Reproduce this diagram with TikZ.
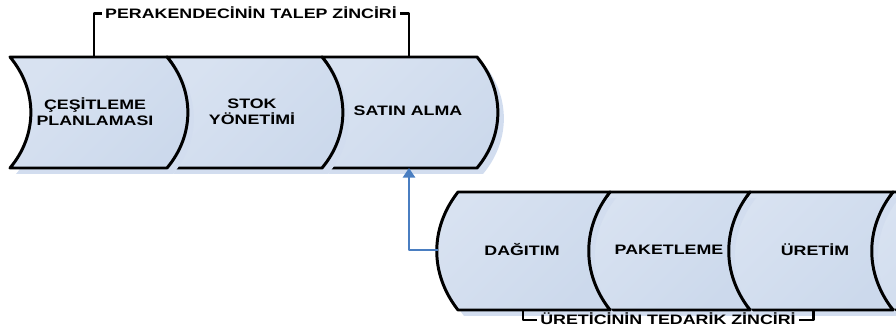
\documentclass[tikz,border=0pt]{standalone}
\usepackage{fontspec}
\usepackage{tikz}
\usetikzlibrary{arrows.meta,positioning}
\newfontfamily\chainfont[FakeStretch=1.3,
    BoldFont={Liberation Sans Bold}, BoldFeatures={FakeStretch=1.3}]{Liberation Sans}
\definecolor{ChainLight}{RGB}{216,226,241}
\definecolor{ChainMid}{RGB}{176,196,224}
\definecolor{ChainShadow}{RGB}{210,221,239}
\definecolor{FlowBlue}{RGB}{74,126,193}

\begin{document}
\begin{tikzpicture} [x=0.02cm, y=-0.02cm,
       line join=round, text=black,
       every node/.style={font=\chainfont\bfseries\fontsize{7.8}{9.2}\selectfont},
       link/.style={line width=1.7pt, draw=black, top color=ChainLight,
                    middle color=ChainMid, bottom color=ChainLight!70!ChainMid,
                    shading angle=45},
       linkshadow/.style={fill=ChainShadow, shift={(6,6)}},
       bracket/.style={line width=1.7pt},
       chainlabel/.style={inner sep=1.5pt, text height=5.6pt, text depth=0pt},
       flow/.style={line width=1.2pt, draw=FlowBlue, -{Triangle[width=7pt,length=5.5pt]}}]

	\useasboundingbox (0,0) rectangle (896,330);
	\clip (0,0) rectangle (896,330);

	%% Retailer chain: links pointing right, drawn from the last one back
	\foreach \l/\r in {322/477,167/322,10/167}
		{\fill[linkshadow] (\l,57) -- (\r,57) to[bend left=40] (\r,168)
		      -- (\l,168) to[bend right=40] (\l,57) -- cycle;
		 \draw[link] (\l,57) -- (\r,57) to[bend left=40] (\r,168)
		      -- (\l,168) to[bend right=40] (\l,57) -- cycle;}

	%% Producer chain: links pointing left
	\foreach \l/\r in {893/1040,750/893,610/750,458/610}
		{\fill[linkshadow] (\l,192) -- (\r,192) to[bend right=38] (\r,310)
		      -- (\l,310) to[bend left=38] (\l,192) -- cycle;
		 \draw[link] (\l,192) -- (\r,192) to[bend right=38] (\r,310)
		      -- (\l,310) to[bend left=38] (\l,192) -- cycle;}

	%% Link labels
	\node[align=center] (cesit) at (95,112) {ÇEŞİTLEME\\PLANLAMASI};
	\node[align=center] (stok) at (252,112) {STOK\\YÖNETİMİ};
	\node (satin) at (408,111) {SATIN ALMA};
	\node (dagitim) at (522,250) {DAĞITIM};
	\node (paket) at (669,250) {PAKETLEME};
	\node (uretim) at (815,250) {ÜRETİM};

	%% Brackets over and under each chain
	\coordinate (talep-l) at (94,57);
	\coordinate (talep-r) at (409,57);
	\coordinate (tedarik-l) at (523,310);
	\coordinate (tedarik-r) at (813,310);
	\node[chainlabel] (talep) at (251,14) {PERAKENDECİNİN TALEP ZİNCİRİ};
	\node[chainlabel] (tedarik) at (668,320) {ÜRETİCİNİN TEDARİK ZİNCİRİ};
	\draw[bracket] (talep-l) |- (talep.west);
	\draw[bracket] (talep-r) |- (talep.east);
	\draw[bracket] (tedarik-l) |- (tedarik.west);
	\draw[bracket] (tedarik-r) |- (tedarik.east);

	%% Feedback from distribution to purchasing
	\coordinate (dagitim-w) at (438,250);
	\coordinate (satin-s) at (409,168);
	\draw[flow] (dagitim-w) -| (satin-s);
\end{tikzpicture}
\end{document}
